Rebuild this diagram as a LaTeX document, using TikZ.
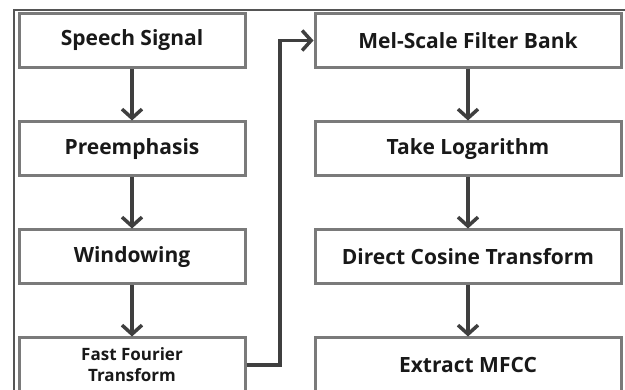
\documentclass[tikz,border=0pt]{standalone}
\usepackage{fontspec}
\setmainfont{Open Sans}
\usetikzlibrary{arrows.meta}
\definecolor{boxgray}{HTML}{7A7A7A}
\definecolor{linegray}{HTML}{3F3F3F}

\begin{document}
\begin{tikzpicture}[x=1pt, y=-1pt,
	arrows={-Straight Barb[length=9pt,width=20pt]},
	stage/.style={draw=boxgray, line width=3pt, fill=white, minimum height=54pt,
		inner sep=0pt, font=\bfseries\fontsize{21}{24}\selectfont, text=black!90},
	leftstage/.style={stage, minimum width=226pt},
	rightstage/.style={stage, minimum width=306pt},
	flow/.style={draw=linegray, line width=3.5pt}]
	\useasboundingbox (0,0) rectangle (625,390);
	\draw [-, draw=boxgray!70!black, line width=2pt] (14,390) -- (14,10) -- (625,10);
	\node [leftstage] (speech) at (132,40.5) {Speech Signal};
	\node [leftstage] (preemph) at (132,149) {Preemphasis};
	\node [leftstage] (window) at (132,257) {Windowing};
	\node [leftstage, align=center, font=\bfseries\fontsize{17}{21}\selectfont] (fft) at (132,365) {Fast Fourier\\Transform};
	\node [rightstage] (melbank) at (468,40.5) {Mel-Scale Filter Bank};
	\node [rightstage] (logarithm) at (468,149) {Take Logarithm};
	\node [rightstage] (dct) at (468,257) {Direct Cosine Transform};
	\node [rightstage] (mfcc) at (468,365) {Extract MFCC};
	\coordinate (turn) at (280,40.5);
	\draw [flow] (speech) to (preemph);
	\draw [flow] (preemph) to (window);
	\draw [flow] (window) to (fft);
	\draw [flow] (fft.east) -| (turn) -- (melbank.west);
	\draw [flow] (melbank) to (logarithm);
	\draw [flow] (logarithm) to (dct);
	\draw [flow] (dct) to (mfcc);
\end{tikzpicture}
\end{document}
